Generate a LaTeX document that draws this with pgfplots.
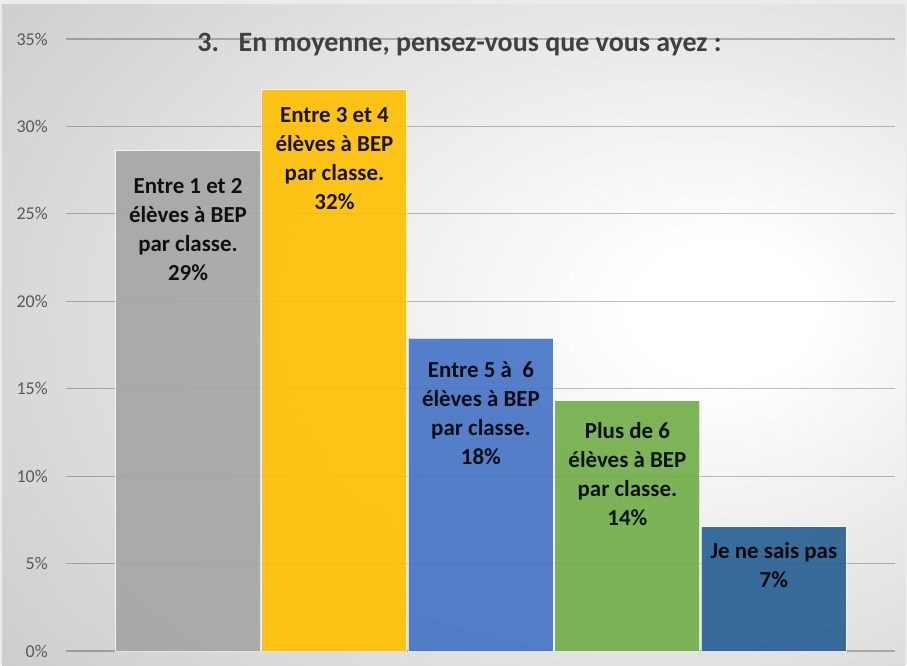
\documentclass[border=0pt]{standalone}
\usepackage{fontspec}
\setmainfont{Carlito}
\usepackage{pgfplots}
\pgfplotsset{compat=1.18}
\definecolor{cgray}{HTML}{A5A5A5}
\definecolor{cgold}{HTML}{FFC000}
\definecolor{cblue}{HTML}{4472C4}
\definecolor{cgreen}{HTML}{70AD47}
\definecolor{cnavy}{HTML}{255E91}
\definecolor{ticktxt}{HTML}{595959}
\definecolor{titletxt}{HTML}{404040}
\pgfdeclareradialshading{bgshade}{\pgfpoint{16bp}{2bp}}{%
  color(0bp)=(white); color(5bp)=(white); color(42bp)=(black!20); color(75bp)=(black!27)}

\begin{document}
\begin{tikzpicture}
% background of the chart area
\fill[black!8] (0,0) rectangle (680.25pt,498.75pt);
\shade[shading=bgshade] (1.5pt,0pt) rectangle (678.75pt,495pt);

\begin{axis}[at={(49.5pt,10.5pt)},anchor=south west,scale only axis,
  width=621.75pt,height=459pt,
  ybar,bar shift=0pt,bar width=0.99,
  xmin=-0.833,xmax=4.827,ymin=0,ymax=35,
  xtick=\empty,ytick={0,5,...,35},
  yticklabel={\pgfmathprintnumber{\tick}\%},
  /pgf/number format/assume math mode=true,
  yticklabel style={font=\fontsize{13.5}{16}\selectfont,text=ticktxt,
    anchor=east,inner sep=0pt,xshift=-13.5pt},
  major tick length=0pt,axis line style={draw=none},
  ymajorgrids,grid style={black,opacity=0.25,line width=0.8pt},
  nodes near coords style={anchor=north,align=center,inner sep=0pt,text=black,
    font=\fontsize{17.2}{21.75}\selectfont\bfseries},
  every axis plot/.append style={draw=white,draw opacity=0.7,line width=0.75pt,fill opacity=0.9}]
\addplot[fill=cgray,nodes near coords={Entre 1 et 2\\élèves à BEP\\par classe.\\29\%},
  nodes near coords style={yshift=-20.5pt}] coordinates {(0,28.6)};
\addplot[fill=cgold,nodes near coords={Entre 3 et 4\\élèves à BEP\\par classe.\\32\%},
  nodes near coords style={yshift=-13pt}] coordinates {(1,32.1)};
\addplot[fill=cblue,nodes near coords={Entre 5 à~~6\\élèves à BEP\\par classe.\\18\%},
  nodes near coords style={yshift=-17.5pt}] coordinates {(2,17.9)};
\addplot[fill=cgreen,nodes near coords={Plus de 6\\élèves à BEP\\par classe.\\14\%},
  nodes near coords style={yshift=-16pt}] coordinates {(3,14.3)};
\addplot[fill=cnavy,nodes near coords={Je ne sais pas\\7\%},
  nodes near coords style={yshift=-11.5pt}] coordinates {(4,7.1)};
\end{axis}

\node[font=\fontsize{21}{25}\selectfont\bfseries,text=titletxt]
  at (344.6pt,465pt) {3.\hspace{0.7em}En moyenne, pensez-vous que vous ayez :};
\end{tikzpicture}
\end{document}
